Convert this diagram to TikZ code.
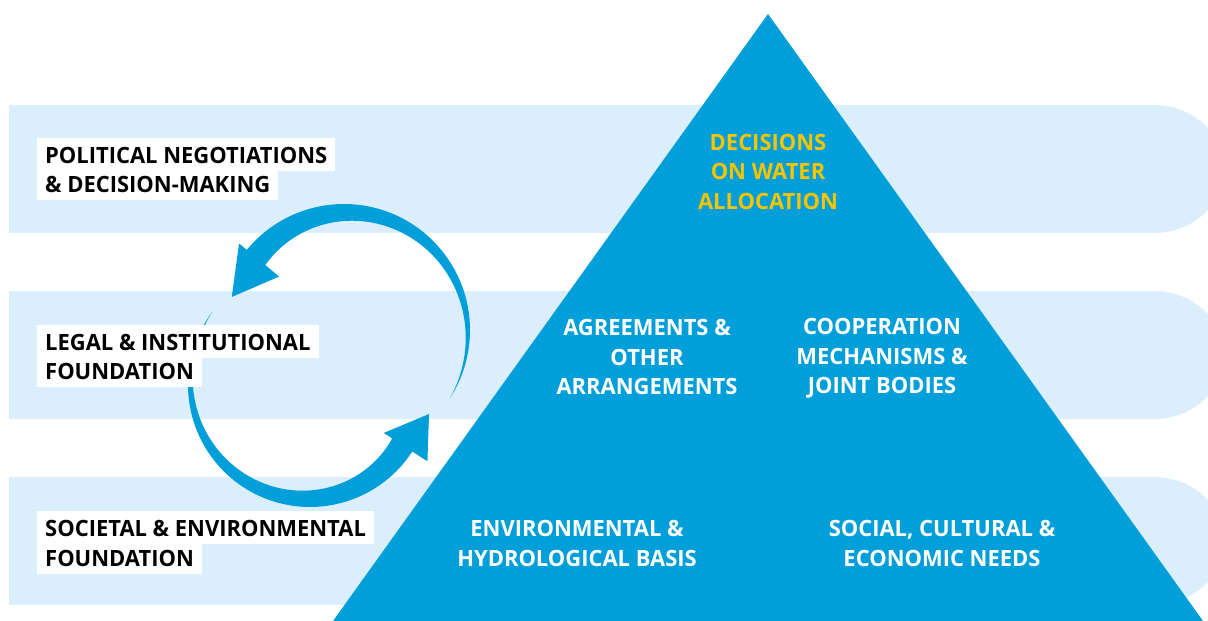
\documentclass[tikz,border=0pt]{standalone}
\usepackage{fontspec}
\newfontfamily\lblfont{Open Sans}[FakeStretch=0.98]
\definecolor{bandblue}{RGB}{218,238,251}
\definecolor{triblue}{RGB}{0,159,218}
\definecolor{goldtxt}{RGB}{247,197,0}
\tikzset{
  lbl/.style={fill=white, font=\lblfont\bfseries\fontsize{22.4}{29.5}\selectfont, text=black,
    inner xsep=8pt, inner ysep=0pt, text height=25pt, text depth=8pt, anchor=base west},
  tri/.style={font=\lblfont\bfseries\fontsize{22.4}{29.5}\selectfont, text=white, align=center, inner sep=0pt},
  band/.style={fill=bandblue}
}
\begin{document}
\begin{tikzpicture}[x=1pt,y=-1pt]
\useasboundingbox (0,0) rectangle (1208,621);
% bands
\foreach \t in {105,291,477}{
  \fill[band] (9,\t) rectangle (1154,\t+128);
  \fill[band] (1154,\t+64) ellipse [x radius=70, y radius=64];
}
% upper circular arrow
\fill[triblue] plot[domain=-32.7:140.5, samples=80] ({344+126*cos(\x)},{330-126*sin(\x)})
  -- ({344+136*cos(140.5)},{330-136*sin(140.5)})
  -- ({344+117*cos(163.6)},{330-117*sin(163.6)})
  -- ({344+84*cos(140.5)},{330-84*sin(140.5)})
  -- plot[domain=140.5:-32.7, samples=80] ({344+(126-24*(\x+32.7)/173.2)*cos(\x)},{330-(126-24*(\x+32.7)/173.2)*sin(\x)})
  -- cycle;
% lower circular arrow
\fill[triblue] plot[domain=143:327, samples=80] ({310+122*cos(\x)},{385-122*sin(\x)})
  -- ({310+140*cos(327)},{385-140*sin(327)})
  -- ({310+122.5*cos(346.3)},{385-122.5*sin(346.3)})
  -- ({310+88*cos(327)},{385-88*sin(327)})
  -- plot[domain=327:143, samples=80] ({310+(122-24*(\x-143)/184)*cos(\x)},{385-(122-24*(\x-143)/184)*sin(\x)})
  -- cycle;
% left labels
\node[lbl] (pol1) at (37,163) {POLITICAL NEGOTIATIONS};
\node[lbl] (pol2) at (37,192) {\& DECISION-MAKING};
\node[lbl] (leg1) at (37,350) {LEGAL \& INSTITUTIONAL};
\node[lbl] (leg2) at (37,379) {FOUNDATION};
\node[lbl] (soc1) at (37,536) {SOCIETAL \& ENVIRONMENTAL};
\node[lbl] (soc2) at (37,566) {FOUNDATION};
% pyramid
\fill[triblue] (768,14) -- (1203,621) -- (333,621) -- cycle;
\node[tri, text=goldtxt] (dec) at (768,171.5) {DECISIONS\\ON WATER\\ALLOCATION};
\node[tri] (agr) at (647,357) {AGREEMENTS \&\\OTHER\\ARRANGEMENTS};
\node[tri] (coop) at (882,358.5) {COOPERATION\\MECHANISMS \&\\JOINT BODIES};
\node[tri] (env) at (577,543.5) {ENVIRONMENTAL \&\\HYDROLOGICAL BASIS};
\node[tri] (soc) at (942,543.5) {SOCIAL, CULTURAL \&\\ECONOMIC NEEDS};
\end{tikzpicture}
\end{document}
